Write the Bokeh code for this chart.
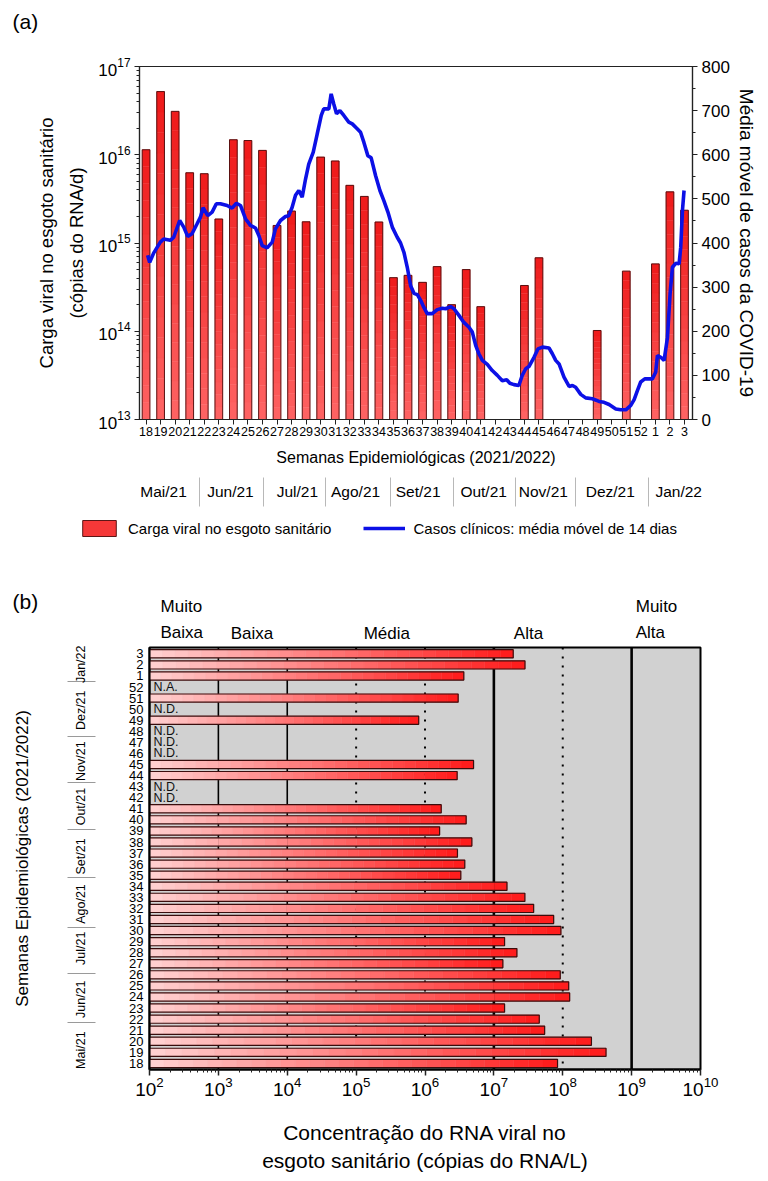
import numpy as np
from bokeh.plotting import figure
from bokeh.models import (Range1d, LinearAxis, LinearScale, FixedTicker,
                          SingleIntervalTicker, ColumnDataSource, Span, Legend, LegendItem)
from bokeh.core.properties import value
from bokeh.embed import file_html
from bokeh.resources import INLINE

# ---------------- data ----------------
weeks = ["18", "19", "20", "21", "22", "23", "24", "25", "26", "27", "28", "29", "30",
         "31", "32", "33", "34", "35", "36", "37", "38", "39", "40", "41", "42", "43",
         "44", "45", "46", "47", "48", "49", "50", "51", "52", "1", "2", "3"]

# (a) viral load in sewage, RNA copies/day (None = no sample)
viral_load = [1.14e16, 5.2e16, 3.1e16, 6.25e15, 6.1e15, 1.87e15, 1.48e16, 1.45e16, 1.12e16,
              1.58e15, 2.3e15, 1.74e15, 9.4e15, 8.5e15, 4.5e15, 3.37e15, 1.73e15, 4.05e14,
              4.3e14, 3.58e14, 5.4e14, 2.0e14, 5.0e14, 1.9e14, None, None, 3.3e14, 6.8e14,
              None, None, None, 1.02e14, None, 4.8e14, None, 5.8e14, 3.8e15, 2.35e15]

# (a) 14-day moving average of clinical cases (position in weeks from week 18, cases)
cases_week = [0.11, 0.25, 0.52, 0.98, 1.21, 1.67, 1.90, 2.31, 2.59, 2.86, 3.16, 3.50, 3.73,
              3.92, 4.24, 4.54, 4.83, 5.11, 5.57, 5.91, 6.21, 6.49, 6.83, 7.17, 7.52, 7.75,
              7.98, 8.32, 8.67, 8.89, 9.24, 9.58, 9.81, 10.04, 10.27, 10.50, 10.73, 10.96,
              11.18, 11.49, 11.76, 12.04, 12.21, 12.56, 12.72, 12.90, 13.09, 13.32, 13.59,
              13.93, 14.17, 14.51, 14.74, 14.97, 15.24, 15.47, 15.77, 16.07, 16.34, 16.62,
              16.92, 17.26, 17.49, 17.72, 17.95, 18.18, 18.41, 18.64, 18.87, 19.09, 19.32,
              19.67, 20.01, 20.36, 20.58, 20.93, 21.16, 21.50, 21.84, 22.19, 22.42, 22.65,
              22.87, 23.11, 23.45, 23.79, 24.14, 24.48, 24.78, 25.00, 25.28, 25.62, 25.85,
              26.09, 26.31, 26.66, 26.93, 27.24, 27.69, 27.92, 28.15, 28.38, 28.72, 29.07,
              29.30, 29.52, 29.87, 30.21, 30.67, 31.13, 31.47, 31.82, 32.05, 32.28, 32.62,
              32.97, 33.31, 33.54, 33.77, 33.99, 34.27, 34.56, 34.79, 35.02, 35.14, 35.37,
              35.60, 35.83, 36.01, 36.17, 36.40, 36.63, 36.74, 36.86, 36.97]
cases_ma = [372, 356, 377, 402, 409, 406, 413, 451, 436, 415, 421, 443, 458,
            480, 462, 470, 489, 489, 485, 479, 490, 485, 455, 440, 434, 417,
            394, 389, 402, 432, 451, 460, 462, 481, 508, 519, 504, 545,
            579, 606, 647, 689, 704, 704, 738, 715, 693, 700, 689,
            674, 670, 659, 651, 628, 598, 593, 553, 519, 496, 470,
            436, 413, 400, 379, 345, 303, 286, 283, 270, 254, 240,
            240, 249, 252, 251, 256, 251, 236, 220, 209, 198, 168,
            149, 134, 125, 111, 100, 88, 90, 82, 79, 77, 100,
            115, 120, 141, 160, 164, 162, 149, 134, 126, 96, 75,
            77, 73, 57, 49, 47, 41, 39, 34, 29, 24, 22,
            22, 32, 45, 66, 85, 92, 92, 92, 107, 145, 141,
            134, 186, 285, 345, 354, 353, 390, 474, 519]

# (b) RNA concentration in sewage, copies/L (None = no value)
rna_conc = [8.4e7, 4.25e8, 2.61e8, 5.46e7, 4.56e7, 1.43e7, 1.26e8, 1.22e8, 9.2e7,
            1.35e7, 2.16e7, 1.43e7, 9.4e7, 7.38e7, 3.78e7, 2.82e7, 1.55e7, 3.31e6,
            3.78e6, 2.96e6, 4.79e6, 1.63e6, 3.96e6, 1.72e6, None, None, 2.93e6, 5.07e6,
            None, None, None, 8.1e5, None, 3.03e6, None, 3.66e6, 2.83e7, 1.91e7]
rna_status = ["", "", "", "", "", "", "", "", "", "", "", "", "", "", "", "", "", "",
              "", "", "", "", "", "", "N.D.", "N.D.", "", "", "N.D.", "N.D.", "N.D.", "",
              "N.D.", "", "N.A.", "", "", ""]

months = ["Mai/21", "Jun/21", "Jul/21", "Ago/21", "Set/21", "Out/21", "Nov/21", "Dez/21", "Jan/22"]
zones = ["Muito\nBaixa", "Baixa", "Média", "Alta", "Muito\nAlta"]
zone_limits = [1e3, 1e4, 1e7, 1e9]

# ---------------- layout / style ----------------
month_label_at = [1.2, 5.8, 10.4, 14.4, 18.7, 23.2, 27.3, 31.9, 36.6]
month_breaks = [3.7, 8.1, 12.3, 16.8, 21.1, 25.4, 29.5, 34.5]
zone_label_at = [10 ** 2.16, 10 ** 3.18, 10 ** 5.11, 10 ** 7.29, 10 ** 9.06]

FONT = "Liberation Sans"
NARROW = "'Liberation Sans Narrow', 'Arial Narrow', 'Liberation Sans', sans-serif"
W = 760
idx = list(range(len(weeks)))

# vertical layout of the page (px)
H0, H1, H1B, H2 = 40, 473, 132, 532
B_LEFT, B_RIGHT = 149, 60          # frame borders of panel (b)
DEC_PX = (W - B_LEFT - B_RIGHT) / 8.0


def blend(c0, c1, t):
    a = [int(c0[i:i + 2], 16) for i in (1, 3, 5)]
    b = [int(c1[i:i + 2], 16) for i in (1, 3, 5)]
    return "#%02x%02x%02x" % tuple(int(round(x + (y - x) * t)) for x, y in zip(a, b))


def gradient_segments(positions, vals, base, n, c0, c1):
    pos, lo, hi, col = [], [], [], []
    for i, v in zip(positions, vals):
        if v is None:
            continue
        edges = np.geomspace(base, v, n + 1)
        for k in range(n):
            pos.append(i)
            lo.append(edges[k])
            hi.append(edges[k + 1])
            col.append(blend(c0, c1, (k + 0.5) / n))
    return dict(pos=pos, lo=lo, hi=hi, color=col)


def style_axis(ax, label_size="17px"):
    ax.axis_line_color = "#222222"
    ax.axis_line_width = 1.2
    ax.major_tick_line_color = "#222222"
    ax.minor_tick_line_color = "#222222"
    ax.major_label_text_font = FONT
    ax.major_label_text_font_size = label_size
    ax.major_label_text_color = "black"
    ax.axis_label_text_font = FONT
    ax.axis_label_text_font_style = "normal"
    ax.axis_label_text_color = "black"


def strip(height, x_range, x_axis_type="linear"):
    s = figure(width=W, height=height, x_range=x_range, y_range=Range1d(height, 0),
               x_axis_type=x_axis_type, x_axis_location=None, y_axis_location=None,
               output_backend="svg", toolbar_location=None, min_border=0,
               outline_line_color=None)
    for g in s.grid:
        g.visible = False
    return s


# ---- strip with "(a)" ----
p0 = strip(H0, Range1d(0, 1))
p0.text(x=[p0.x_range.start], y=[32], text=["(a)"], x_offset=12, text_baseline="bottom",
        text_align="left", text_font=value(FONT), text_font_size="21px", text_color="black")

# ================= (a) =================
p1 = figure(width=W, height=H1, x_range=Range1d(-0.45, 37.55), y_range=Range1d(1e13, 1e17),
            y_axis_type="log", output_backend="svg", toolbar_location=None, title=None,
            min_border_left=139, min_border_right=68, min_border_top=26, min_border_bottom=94)
p1.extra_y_ranges = {"cases": Range1d(0, 800)}
p1.extra_y_scales = {"cases": LinearScale()}
p1.xgrid.visible = False
p1.ygrid.visible = False
p1.outline_line_color = "#222222"
p1.outline_line_width = 1.2

xa = p1.xaxis[0]
yl = p1.yaxis[0]

n_top = 16
seg1 = ColumnDataSource(gradient_segments(idx, viral_load, p1.y_range.start, n_top, "#ff6464", "#ee1a1a"))
p1.vbar(x="pos", bottom="lo", top="hi", width=0.53, fill_color="color",
        line_color="color", line_width=0.4, source=seg1)
load_src = ColumnDataSource(dict(pos=[i for i, v in zip(idx, viral_load) if v is not None],
                                 top=[v for v in viral_load if v is not None]))
p1.vbar(x="pos", bottom=p1.y_range.start, top="top", width=0.53, fill_alpha=0,
        line_color="#4a0808", line_width=0.9, source=load_src)
p1.line(cases_week, cases_ma, y_range_name="cases", line_color="#0c10e6", line_width=3.6)

yl.ticker = FixedTicker(ticks=[10.0 ** k for k in range(13, 18)],
                        minor_ticks=[m * 10.0 ** k for k in range(13, 17) for m in range(2, 10)])
style_axis(yl, "17px")
yl.major_tick_out = 5
yl.major_tick_in = 0
yl.minor_tick_out = 3
yl.minor_tick_in = 0
yl.major_label_standoff = 4
yl.axis_label = "Carga viral no esgoto sanitário\n(cópias do RNA/d)"
yl.axis_label_text_font_size = "18.5px"
yl.axis_label_text_line_height = 1.45
yl.axis_label_standoff = 8

yr = LinearAxis(y_range_name="cases", ticker=SingleIntervalTicker(interval=100, num_minor_ticks=2))
style_axis(yr, "17px")
yr.major_tick_out = 5
yr.major_tick_in = 0
yr.minor_tick_out = 3
yr.minor_tick_in = 0
yr.major_label_standoff = 4
yr.axis_label = "Média móvel de casos da COVID-19"
yr.axis_label_text_font_size = "19px"
yr.axis_label_standoff = 3
if "axis_label_orientation" in yr.properties():
    yr.axis_label_orientation = "vertical"
p1.add_layout(yr, "right")

xa.ticker = FixedTicker(ticks=idx)
xa.major_label_overrides = {i: w for i, w in zip(idx, weeks)}
style_axis(xa, "12.5px")
xa.major_label_text_font = NARROW
xa.major_tick_out = 5
xa.major_tick_in = 0
xa.major_label_standoff = 2
xa.axis_label = "Semanas Epidemiológicas (2021/2022)"
xa.axis_label_text_font_size = "16px"
xa.axis_label_standoff = 10

ma = LinearAxis(ticker=FixedTicker(ticks=month_label_at, minor_ticks=month_breaks))
ma.major_label_overrides = {m: name for m, name in zip(month_label_at, months)}
style_axis(ma, "15.5px")
ma.axis_line_alpha = 0
ma.major_tick_in = 0
ma.major_tick_out = 0
ma.minor_tick_in = -9
ma.minor_tick_out = 38
ma.minor_tick_line_color = "#b8b8b8"
ma.minor_tick_line_width = 1
ma.major_label_standoff = -24
p1.add_layout(ma, "below")

# ---- strip: legend of (a), "(b)" and zone names of (b) ----
p1b = strip(H1B, Range1d(10 ** (2 - B_LEFT / DEC_PX), 10 ** (10 + B_RIGHT / DEC_PX)), "log")
leg_bars = p1b.vbar(x="pos", bottom="lo", top="hi", width=0.53, fill_color="color",
                    line_color="#4a0808", line_width=0.9, source=seg1, visible=False)
leg_line = p1b.line(cases_week, cases_ma, line_color="#0c10e6", line_width=3.6, visible=False)
legend = Legend(items=[LegendItem(label="Carga viral no esgoto sanitário", renderers=[leg_bars],
                                  index=int(n_top * 0.6)),
                       LegendItem(label="Casos clínicos: média móvel de 14 dias", renderers=[leg_line])],
                orientation="horizontal", location=(78, H1B - 25), glyph_width=42, glyph_height=20,
                label_standoff=8, spacing=32, padding=0, margin=0,
                border_line_alpha=0, background_fill_alpha=0, inactive_fill_alpha=0,
                label_text_font=FONT, label_text_font_size="15px", label_text_color="black")
p1b.add_layout(legend)
p1b.text(x=[p1b.x_range.start], y=[99], text=["(b)"], x_offset=12, text_baseline="bottom",
         text_align="left", text_font=value(FONT), text_font_size="21px", text_color="black")
p1b.text(x=zone_label_at, y=[129] * len(zones), text=zones, text_baseline="bottom",
         text_align="left", text_font=value(FONT), text_font_size="17px", text_color="black",
         text_line_height=1.42)

# ================= (b) =================
p2 = figure(width=W, height=H2, x_axis_type="log", x_range=Range1d(1e2, 1e10),
            y_range=Range1d(-0.55, 37.57), output_backend="svg", toolbar_location=None,
            title=None, min_border_left=B_LEFT, min_border_right=B_RIGHT, min_border_top=2,
            min_border_bottom=108)
p2.background_fill_color = "#d1d1d1"
p2.xgrid.visible = False
p2.ygrid.visible = False
p2.outline_line_color = "black"
p2.outline_line_width = 2

xb = p2.xaxis[0]
yb = p2.yaxis[0]

for loc in zone_limits:
    w = 2.6 if loc in (1e7, 1e9) else 1.6
    p2.add_layout(Span(location=loc, dimension="height", line_color="black",
                       line_width=w, level="underlay"))
for loc in (1e5, 1e6, 1e8):
    p2.add_layout(Span(location=loc, dimension="height", line_color="black",
                       line_width=2, line_dash="2 7", level="underlay"))

n_bot = 28
seg2 = ColumnDataSource(gradient_segments(idx, rna_conc, p2.x_range.start, n_bot, "#ffd2d2", "#ff1a1a"))
p2.hbar(y="pos", left="lo", right="hi", height=0.74, fill_color="color", line_color="color",
        line_width=0.4, source=seg2)
conc_src = ColumnDataSource(dict(pos=[i for i, v in zip(idx, rna_conc) if v is not None],
                                 right=[v for v in rna_conc if v is not None]))
p2.hbar(y="pos", left=p2.x_range.start, right="right", height=0.74, fill_alpha=0,
        line_color="#3a0d0d", line_width=1.2, source=conc_src)

flag_src = ColumnDataSource(dict(pos=[i for i, s in zip(idx, rna_status) if s],
                                 txt=[s for s in rna_status if s],
                                 x=[p2.x_range.start] * sum(1 for s in rna_status if s)))
p2.text(x="x", y="pos", text="txt", x_offset=4, text_baseline="middle", text_align="left",
        text_font=value(NARROW), text_font_size="12.5px", text_color="#111111", source=flag_src)

xb.ticker = FixedTicker(ticks=[10.0 ** k for k in range(2, 11)],
                        minor_ticks=[m * 10.0 ** k for k in range(2, 10) for m in range(2, 10)])
style_axis(xb, "19px")
xb.axis_line_color = "black"
xb.axis_line_width = 2
xb.major_tick_out = 6
xb.major_tick_in = 0
xb.minor_tick_out = 3
xb.minor_tick_in = 0
xb.major_tick_line_width = 1.5
xb.major_label_standoff = 1
xb.axis_label = "Concentração do RNA viral no\nesgoto sanitário (cópias do RNA/L)"
xb.axis_label_text_font_size = "21px"
xb.axis_label_text_line_height = 1.25
xb.axis_label_standoff = 22

yb.ticker = FixedTicker(ticks=idx)
yb.major_label_overrides = {i: w for i, w in zip(idx, weeks)}
style_axis(yb, "13px")
yb.major_label_text_font = NARROW
yb.axis_line_color = "black"
yb.axis_line_width = 2
yb.major_tick_out = 0
yb.major_tick_in = 0
yb.major_label_standoff = 6

mb = LinearAxis(ticker=FixedTicker(ticks=month_label_at, minor_ticks=month_breaks))
mb.major_label_overrides = {m: name for m, name in zip(month_label_at, months)}
style_axis(mb, "12.5px")
mb.major_label_text_font = NARROW
mb.major_label_orientation = "vertical"
mb.axis_line_alpha = 0
mb.major_tick_in = 0
mb.major_tick_out = 0
mb.minor_tick_in = -31
mb.minor_tick_out = 59
mb.minor_tick_line_color = "#9a9a9a"
mb.major_label_standoff = -21
mb.axis_label = "Semanas Epidemiológicas (2021/2022)"
mb.axis_label_text_font_size = "17px"
mb.axis_label_standoff = 40
p2.add_layout(mb, "left")

p = [p0, p1, p1b, p2]
open("out.html", "w").write(file_html(p, INLINE))
